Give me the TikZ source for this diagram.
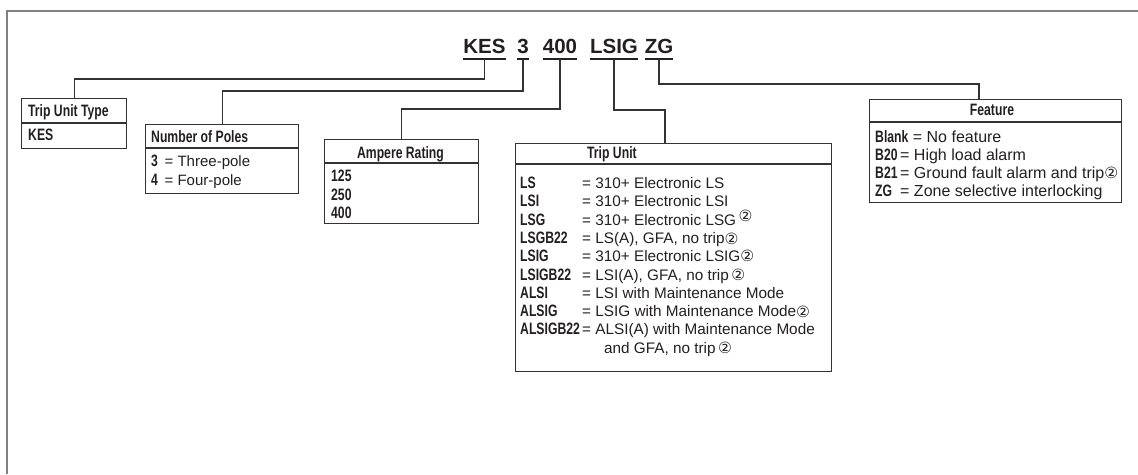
\documentclass[tikz,border=0pt]{standalone}
\usepackage{fontspec}
\setmainfont{Liberation Sans}[BoldFeatures={FakeStretch=0.74}]
\newfontfamily\titlefont{Liberation Sans}
\newfontfamily\symfont{DejaVu Sans}
\newcommand{\ctwo}{{\symfont\fontsize{15.5}{15.5}\selectfont ②}}
\definecolor{framegray}{HTML}{808080}
\definecolor{ink}{HTML}{231F20}
\definecolor{boxc}{HTML}{333333}
\tikzset{
  boxnode/.style={draw=boxc, line width=1.2pt, anchor=north west, inner sep=0pt},
  divline/.style={draw=boxc, line width=1.1pt},
  txt/.style={anchor=base west, inner sep=0pt, text=ink, font=\fontsize{15.3}{18}\selectfont},
  txtf/.style={anchor=base west, inner sep=0pt, text=ink, font=\fontsize{16}{18}\selectfont},
  txtp/.style={anchor=base west, inner sep=0pt, text=ink, font=\fontsize{15}{18}\selectfont},
  hdr/.style={anchor=base west, inner sep=0pt, text=ink, font=\fontsize{16.5}{20}\selectfont\bfseries},
  hdrc/.style={anchor=base, inner sep=0pt, text=ink, font=\fontsize{16.5}{20}\selectfont\bfseries},
  titleword/.style={anchor=base, inner sep=0pt, text=ink, font=\titlefont\bfseries\fontsize{20.5}{24}\selectfont},
  uline/.style={draw=ink, line width=1.4pt},
  conn/.style={draw=boxc, line width=1.1pt},
  framel/.style={draw=framegray, line width=2pt}
}
\newcommand{\bd}[1]{{\fontsize{16.5}{18}\selectfont\bfseries #1}}
\begin{document}
\begin{tikzpicture}[x=1pt,y=-1pt]
\useasboundingbox (0,0) rectangle (1138,474);
% outer frame (top and left)
\draw[framel] (7,474) -- (7,11) -- (1138,11);

% title
\node[titleword] (kes) at (484.5,53) {KES};
\node[titleword] (three) at (523,53) {3};
\node[titleword] (fhun) at (560,53) {400};
\node[titleword] (lsig) at (614,53) {LSIG};
\node[titleword] (zg) at (659,53) {ZG};
\foreach \w in {kes,three,fhun,lsig,zg}
  \draw[uline] (\w.west |- 0,59) -- (\w.east |- 0,59);

% boxes
\node[boxnode, minimum width=105pt, minimum height=50pt] (tut) at (21,98) {};
\node[boxnode, minimum width=153pt, minimum height=69pt] (nop) at (145,124) {};
\node[boxnode, minimum width=154pt, minimum height=84pt] (amp) at (324,139) {};
\node[boxnode, minimum width=316pt, minimum height=228pt] (tu) at (515,143) {};
\node[boxnode, minimum width=252pt, minimum height=103pt] (feat) at (869,99) {};

% header dividers
\draw[divline] (tut.west |- 0,123) -- (tut.east |- 0,123);
\draw[divline] (nop.west |- 0,148) -- (nop.east |- 0,148);
\draw[divline] (amp.west |- 0,163) -- (amp.east |- 0,163);
\draw[divline] (tu.west |- 0,164) -- (tu.east |- 0,164);
\draw[divline] (feat.west |- 0,122) -- (feat.east |- 0,122);

% connectors
\draw[conn] (kes.base |- 0,59) |- (tut.north |- 0,79) -- (tut.north);
\draw[conn] (three.base |- 0,59) |- (nop.north |- 0,91) -- (nop.north);
\draw[conn] (fhun.base |- 0,59) |- (amp.north |- 0,109) -- (amp.north);
\draw[conn] (lsig.base |- 0,59) |- ([xshift=150pt]tu.north west |- 0,110) -- ([xshift=150pt]tu.north west);
\draw[conn] (zg.base |- 0,59) |- ([xshift=110pt]feat.north west |- 0,84) -- ([xshift=110pt]feat.north west);

% Trip Unit Type
\node[hdr] (tuth) at (28,116.5) {Trip Unit Type};
\node[hdr] (tutk) at (28,140.5) {KES};

% Number of Poles
\node[hdr] (noph) at (151,142) {Number of Poles};
\node[txtp] (nop3) at (151,166.5) {\bd{3} \,= Three-pole};
\node[txtp] (nop4) at (151,185) {\bd{4} \,= Four-pole};

% Ampere Rating
\node[hdrc] (amph) at (400.5,158) {Ampere Rating};
\node[hdr] (a125) at (331,181.5) {125};
\node[hdr] (a250) at (331,200) {250};
\node[hdr] (a400) at (331,218.5) {400};

% Trip Unit
\node[hdr] (tuh) at (587,158.5) {Trip Unit};
\node[hdr] (k1) at (520,188.5) {LS};
\node[txt] (v1) at (582,188.5) {= 310+ Electronic LS};
\node[hdr] (k2) at (520,206.8) {LSI};
\node[txt] (v2) at (582,206.8) {= 310+ Electronic LSI};
\node[hdr] (k3) at (520,225.1) {LSG};
\node[txt] (v3) at (582,225.1) {= 310+ Electronic LSG\,\raisebox{4pt}{\ctwo}};
\node[hdr] (k4) at (520,243.4) {LSGB22};
\node[txt] (v4) at (582,243.4) {= LS(A), GFA, no trip\raisebox{-1.5pt}{\ctwo}};
\node[hdr] (k5) at (520,261.7) {LSIG};
\node[txt] (v5) at (582,261.7) {= 310+ Electronic LSIG\ctwo};
\node[hdr] (k6) at (520,280) {LSIGB22};
\node[txt] (v6) at (582,280) {= LSI(A), GFA, no trip\,\ctwo};
\node[hdr] (k7) at (520,298.3) {ALSI};
\node[txt] (v7) at (582,298.3) {= LSI with Maintenance Mode};
\node[hdr] (k8) at (520,316.6) {ALSIG};
\node[txt] (v8) at (582,316.6) {= LSIG with Maintenance Mode\raisebox{-1pt}{\ctwo}};
\node[hdr] (k9) at (520,334.9) {ALSIGB22};
\node[txt] (v9) at (582,334.9) {= ALSI(A) with Maintenance Mode};
\node[txt] (v10) at (604,353.2) {and GFA, no trip\,\ctwo};

% Feature
\node[hdrc] (feath) at (992,115.5) {Feature};
\node[txtf] (f1) at (875,142.5) {\bd{Blank} = No feature};
\node[hdr] (f2k) at (875,160.5) {B20};
\node[txtf] (f2) at (900,160.5) {= High load alarm};
\node[hdr] (f3k) at (875,178.5) {B21};
\node[txtf] (f3) at (900,178.5) {= Ground fault alarm and trip\ctwo};
\node[hdr] (f4k) at (875,196.5) {ZG};
\node[txtf] (f4) at (900,196.5) {= Zone selective interlocking};
\end{tikzpicture}
\end{document}
